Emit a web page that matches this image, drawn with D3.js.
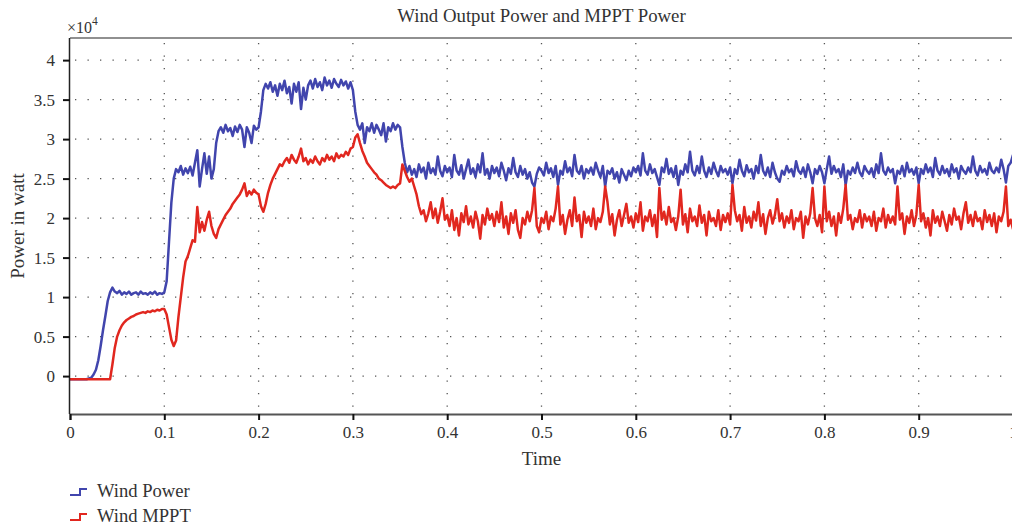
<!DOCTYPE html>
<html><head><meta charset="utf-8">
<script src="https://cdn.jsdelivr.net/npm/d3@7"></script>
<style>
body{margin:0;background:#fff;}
svg{display:block;font-family:"Liberation Serif","DejaVu Serif",serif;}
</style></head>
<body><svg id="c" width="1012" height="525"></svg>
<script>
// sampling step of the simulated signals (time units)
const timeStep = 0.0025;
const xTicks = [0,0.1,0.2,0.3,0.4,0.5,0.6,0.7,0.8,0.9,1];
const xTickLabels = ["0","0.1","0.2","0.3","0.4","0.5","0.6","0.7","0.8","0.9","1"];
const yTicks = [0,0.5,1,1.5,2,2.5,3,3.5,4];
const yTickLabels = ["0","0.5","1","1.5","2","2.5","3","3.5","4"];
const seriesNames = ["Wind Power","Wind MPPT"];
const seriesColors = ["#4145ad","#e1271f"];
// values in units of 10^4 W
const windPower = [
-0.04,-0.04,-0.04,-0.04,-0.04,-0.04,-0.04,-0.04,-0.03,-0.02,0.02,0.08,0.2,0.38,0.58,0.76,0.95,1.06,1.12,1.07,
1.05,1.08,1.03,1.06,1.04,1.07,1.03,1.05,1.06,1.03,1.07,1.04,1.05,1.03,1.06,1.04,1.07,1.03,1.05,1.04,
1.06,1.2,1.7,2.2,2.5,2.62,2.58,2.66,2.55,2.63,2.57,2.65,2.54,2.7,2.86,2.4,2.62,2.82,2.56,2.78,
2.5,2.62,2.95,3.1,3.15,3.08,3.18,3.1,3.14,3.04,3.16,3.09,3.18,3.12,2.9,3.15,3.08,2.95,3.17,3.12,
3.15,3.35,3.62,3.7,3.64,3.72,3.6,3.68,3.55,3.7,3.62,3.74,3.58,3.66,3.45,3.7,3.6,3.72,3.38,3.65,
3.5,3.68,3.74,3.64,3.76,3.66,3.72,3.62,3.78,3.68,3.74,3.65,3.76,3.7,3.66,3.75,3.68,3.73,3.64,3.72,
3.62,3.35,3.18,3.12,3.2,2.95,3.15,3.1,3.2,3.08,3.18,3.12,3.05,3.2,2.97,3.15,3.1,3.2,3.12,3.18,
3.15,2.9,2.7,2.58,2.66,2.55,2.62,2.52,2.68,2.58,2.64,2.5,2.7,2.57,2.63,2.55,2.78,2.6,2.53,2.66,
2.58,2.64,2.52,2.8,2.6,2.55,2.67,2.5,2.62,2.74,2.56,2.63,2.52,2.68,2.58,2.82,2.55,2.62,2.5,2.66,
2.57,2.64,2.53,2.7,2.6,2.48,2.63,2.56,2.76,2.58,2.52,2.66,2.55,2.62,2.5,2.58,2.45,2.4,2.56,2.64,
2.6,2.54,2.7,2.57,2.63,2.52,2.66,2.42,2.6,2.55,2.72,2.58,2.64,2.53,2.8,2.6,2.56,2.66,2.5,2.62,
2.57,2.64,2.55,2.7,2.6,2.52,2.66,2.4,2.6,2.56,2.63,2.5,2.58,2.45,2.62,2.55,2.48,2.6,2.53,2.64,
2.58,2.66,2.54,2.82,2.6,2.55,2.68,2.57,2.62,2.52,2.42,2.64,2.58,2.75,2.56,2.63,2.52,2.66,2.42,2.6,
2.55,2.68,2.58,2.84,2.6,2.54,2.66,2.57,2.78,2.6,2.52,2.64,2.56,2.7,2.6,2.53,2.66,2.58,2.62,2.55,
2.64,2.44,2.62,2.56,2.74,2.6,2.53,2.67,2.58,2.62,2.5,2.66,2.57,2.8,2.6,2.54,2.64,2.52,2.7,2.58,
2.5,2.46,2.6,2.55,2.66,2.58,2.62,2.53,2.72,2.6,2.56,2.64,2.52,2.68,2.58,2.44,2.62,2.56,2.66,2.58,
2.44,2.62,2.78,2.56,2.66,2.58,2.62,2.52,2.68,2.42,2.6,2.55,2.64,2.57,2.7,2.58,2.53,2.66,2.6,2.56,
2.63,2.52,2.68,2.57,2.82,2.6,2.55,2.64,2.58,2.62,2.44,2.6,2.56,2.66,2.53,2.7,2.58,2.62,2.55,2.64,
2.44,2.62,2.56,2.68,2.58,2.64,2.52,2.76,2.6,2.55,2.66,2.57,2.62,2.53,2.68,2.58,2.63,2.5,2.66,2.6,
2.56,2.64,2.58,2.78,2.6,2.54,2.66,2.58,2.62,2.55,2.7,2.6,2.57,2.64,2.58,2.74,2.62,2.45,2.66,2.7,2.8
];
const windMPPT = [
-0.04,-0.04,-0.04,-0.04,-0.04,-0.04,-0.04,-0.04,-0.04,-0.04,-0.04,-0.04,-0.04,-0.04,-0.04,-0.04,-0.04,-0.04,0.15,0.36,
0.5,0.58,0.64,0.68,0.71,0.73,0.75,0.76,0.78,0.79,0.8,0.81,0.8,0.82,0.81,0.83,0.82,0.84,0.83,0.85,
0.85,0.78,0.62,0.46,0.38,0.45,0.75,1.0,1.25,1.45,1.52,1.62,1.72,1.7,2.14,1.82,1.95,1.84,1.98,2.08,
1.9,1.8,1.75,1.86,1.92,1.98,2.04,2.08,2.12,2.18,2.22,2.26,2.3,2.36,2.44,2.28,2.34,2.3,2.36,2.32,
2.3,2.15,2.08,2.18,2.32,2.42,2.5,2.56,2.62,2.68,2.66,2.72,2.76,2.7,2.8,2.74,2.7,2.78,2.88,2.72,
2.76,2.68,2.74,2.7,2.78,2.72,2.68,2.76,2.72,2.8,2.74,2.78,2.72,2.82,2.76,2.8,2.78,2.84,2.8,2.88,
2.9,3.02,3.06,2.95,2.85,2.78,2.7,2.66,2.62,2.58,2.55,2.5,2.48,2.45,2.42,2.4,2.38,2.4,2.38,2.42,
2.44,2.68,2.6,2.52,2.46,2.5,2.4,2.3,2.15,2.05,2.1,1.96,2.06,2.2,2.0,2.12,1.94,2.08,2.25,1.98,
2.04,1.9,2.1,1.85,2.0,1.78,2.06,1.95,2.15,1.92,2.02,1.88,2.08,1.96,1.74,2.04,1.92,2.12,1.98,2.05,
1.9,2.08,1.95,2.2,1.88,2.02,1.8,2.06,1.94,2.1,1.85,1.75,2.0,1.92,2.08,1.96,2.1,2.38,1.9,1.82,
2.0,1.94,2.08,1.86,2.02,1.96,2.12,2.4,1.92,2.04,1.8,1.98,2.1,1.9,2.26,1.96,2.04,1.76,2.08,1.94,
2.02,1.9,2.12,1.86,2.0,1.95,2.08,2.4,2.2,1.92,2.05,1.78,1.98,2.1,1.9,2.04,2.18,1.94,2.02,1.88,
2.06,1.95,2.2,1.84,2.02,1.96,2.1,1.9,2.04,1.76,2.38,1.98,2.08,1.92,2.14,1.95,2.0,1.85,2.02,2.36,
1.92,2.05,1.82,2.12,1.96,2.02,1.9,2.16,1.94,2.04,1.78,2.08,1.96,2.0,1.9,2.1,1.85,2.04,1.95,2.06,
1.92,2.42,2.1,1.96,2.04,1.84,2.14,1.94,2.02,1.88,2.08,1.97,2.2,1.9,2.05,1.8,2.0,2.1,1.93,2.04,
2.24,1.96,2.06,1.88,2.02,1.94,2.1,1.86,2.0,1.96,2.08,1.75,2.02,1.92,2.06,2.38,2.0,1.9,2.04,1.82,
2.4,1.96,2.08,1.9,2.02,1.78,2.06,1.94,2.12,2.42,1.98,2.04,1.86,2.0,1.95,2.1,1.88,2.05,1.96,2.02,
1.9,2.08,1.84,2.0,1.96,2.12,1.88,2.04,1.94,2.02,1.92,2.4,1.98,2.06,1.8,2.02,1.94,2.1,1.9,2.04,
2.42,1.96,2.06,1.88,2.0,1.78,2.1,1.94,2.02,1.9,2.08,1.96,1.84,2.04,1.92,2.12,1.98,2.02,1.86,2.06,
2.2,1.94,2.04,1.9,2.08,1.96,2.0,1.86,2.1,1.95,2.04,1.9,2.06,1.82,2.02,1.96,2.08,2.4,1.9,1.98,1.86
];

const svg = d3.select("#c");
const L = 70, R = 1013, T = 38, B = 414;
const x = d3.scaleLinear().domain([0,1]).range([L,R]);
const y = d3.scaleLinear().domain([-0.48,4.28]).range([B,T]);

// grid
const grid = svg.append("g").attr("stroke","#555").attr("stroke-width",1.3).attr("stroke-dasharray","1.3,11.2");
grid.selectAll(".gy").data(yTicks).enter().append("line")
  .attr("x1",L+5).attr("x2",R).attr("y1",d=>y(d)).attr("y2",d=>y(d));
grid.selectAll(".gx").data(xTicks.filter(d=>d>0&&d<1)).enter().append("line")
  .attr("x1",d=>x(d)).attr("x2",d=>x(d)).attr("y1",T+5).attr("y2",B);

// series
const line = d3.line().x((d,i)=>x(i*timeStep)).y(d=>y(d));
[windPower, windMPPT].forEach((s,k)=>{
  svg.append("path").datum(s).attr("d",line).attr("fill","none")
    .attr("stroke",seriesColors[k]).attr("stroke-width",2.5).attr("stroke-linejoin","round");
});

// axes
const ax = d3.axisBottom(x).tickValues(xTicks).tickFormat((d,i)=>xTickLabels[i]).tickSize(6).tickPadding(6);
const gx = svg.append("g").attr("transform",`translate(0,${B})`).call(ax);
gx.select(".domain").attr("stroke","#555").attr("stroke-width",2);
gx.selectAll(".tick line").attr("stroke","#111").attr("stroke-width",2);
gx.selectAll("text").attr("font-size",17).attr("fill","#333").attr("font-family","Liberation Serif, serif");

const ay = d3.axisLeft(y).tickValues(yTicks).tickFormat((d,i)=>yTickLabels[i]).tickSize(7).tickPadding(8);
const gy = svg.append("g").attr("transform",`translate(${L},0)`).call(ay);
gy.select(".domain").attr("stroke","#222").attr("stroke-width",1.5).attr("d",`M-0.5,${T}V${B}`);
gy.selectAll(".tick line").attr("stroke","#111").attr("stroke-width",2);
gy.selectAll("text").attr("font-size",17).attr("fill","#333").attr("font-family","Liberation Serif, serif");

// top border
svg.append("line").attr("x1",L).attr("x2",R).attr("y1",T).attr("y2",T).attr("stroke","#222").attr("stroke-width",1.2);

// texts
svg.append("text").attr("x",(L+R)/2).attr("y",22).attr("text-anchor","middle")
  .attr("font-size",18.8).attr("fill","#333").text("Wind Output Power and MPPT Power");
const ex = svg.append("text").attr("x",67).attr("y",33).attr("font-size",16).attr("fill","#333");
ex.append("tspan").text("×10");
ex.append("tspan").attr("dy",-8).attr("font-size",11.5).text("4");
svg.append("text").attr("transform",`translate(24,${(T+B)/2}) rotate(-90)`).attr("text-anchor","middle")
  .attr("font-size",19).attr("fill","#333").text("Power in watt");
svg.append("text").attr("x",(L+R)/2).attr("y",465).attr("text-anchor","middle")
  .attr("font-size",19).attr("fill","#333").text("Time");

// legend
const lg = svg.append("g");
seriesNames.forEach((n,k)=>{
  const yy = 495 + k*25;
  lg.append("path").attr("d",`M70,${yy}H80V${yy-6}H87`).attr("fill","none")
    .attr("stroke",seriesColors[k]).attr("stroke-width",2);
  lg.append("text").attr("x",97).attr("y",yy+2).attr("font-size",18.6).attr("fill","#333").text(n);
});
</script></body></html>
